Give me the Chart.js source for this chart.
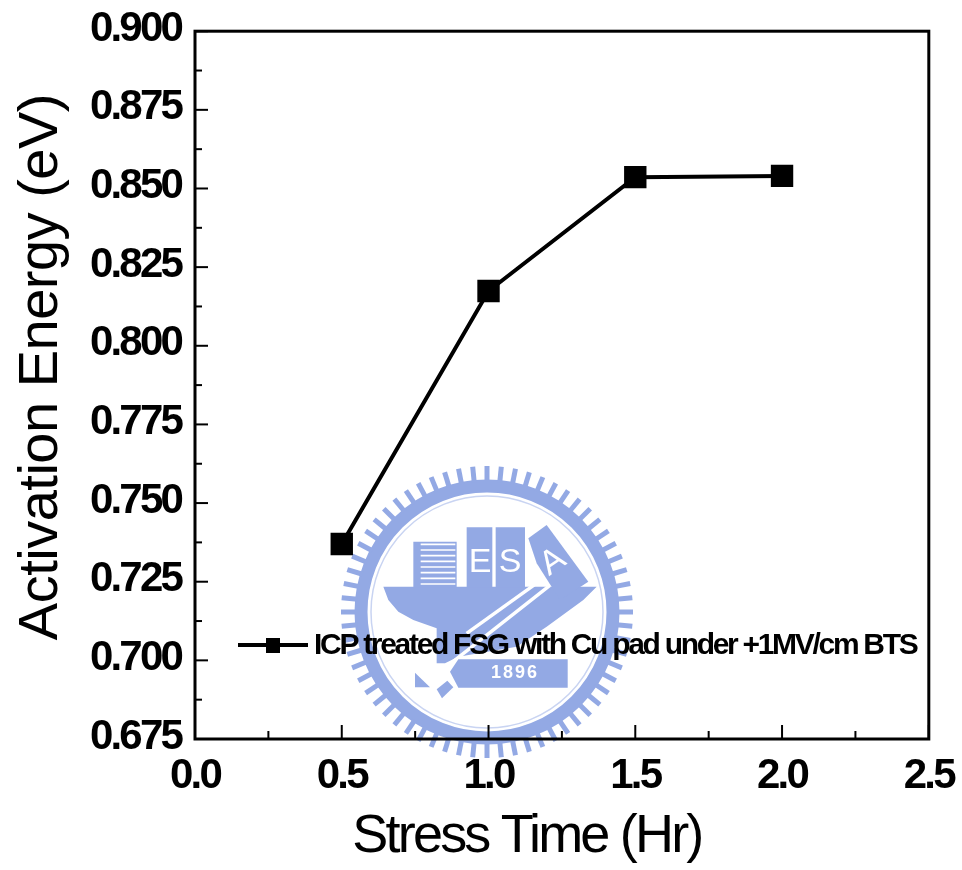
<!DOCTYPE html>
<html>
<head>
<meta charset="utf-8">
<style>
  html, body { margin: 0; padding: 0; background: #fff; }
  canvas { display: block; filter: blur(0.5px); }
</style>
<script src="https://cdn.jsdelivr.net/npm/chart.js@4"></script>
</head>
<body>
<canvas id="chart" width="962" height="870"></canvas>
<script>
// ===== data =====
const stressTime = [0.5, 1.0, 1.5, 2.0];
const activationEnergy = [0.737, 0.8174, 0.8536, 0.854];
const seriesLabel = "ICP treated FSG with Cu pad under +1MV/cm BTS";
const xTickLabels = ["0.0", "0.5", "1.0", "1.5", "2.0", "2.5"];
const yTickLabels = ["0.675", "0.700", "0.725", "0.750", "0.775", "0.800", "0.825", "0.850", "0.875", "0.900"];
const xMinorTicks = [0.25, 0.75, 1.25, 1.75, 2.25];
const yMinorTicks = [0.6875, 0.7125, 0.7375, 0.7625, 0.7875, 0.8125, 0.8375, 0.8625, 0.8875];

const FONT = '"Liberation Sans", Arial, sans-serif';
const LOGO = "#93a9e4";
const TICK_SPACING = "-2.8px";

// school seal behind the plot, positions in px of the seal crop
function drawSeal(ctx) {
  const cx = 487, cy = 612;
  const P = (x, y) => [330 + x / 3, 450 + y / 3];
  const poly = (pts, color) => {
    ctx.fillStyle = color;
    ctx.beginPath();
    pts.forEach((p, i) => {
      const q = P(p[0], p[1]);
      if (i === 0) ctx.moveTo(q[0], q[1]); else ctx.lineTo(q[0], q[1]);
    });
    ctx.closePath();
    ctx.fill();
  };
  const path = (pts) => {
    ctx.beginPath();
    pts.forEach((p, i) => {
      const q = P(p[0], p[1]);
      if (i === 0) ctx.moveTo(q[0], q[1]); else ctx.lineTo(q[0], q[1]);
    });
    ctx.stroke();
  };
  ctx.save();
  ctx.filter = "blur(0.7px)";
  // toothed band
  ctx.strokeStyle = LOGO;
  ctx.lineWidth = 13;
  ctx.beginPath();
  ctx.arc(cx, cy, 126, 0, Math.PI * 2);
  ctx.stroke();
  ctx.lineWidth = 5;
  for (let i = 0; i < 64; i++) {
    const a = i / 64 * Math.PI * 2;
    ctx.beginPath();
    ctx.moveTo(cx + Math.cos(a) * 130, cy + Math.sin(a) * 130);
    ctx.lineTo(cx + Math.cos(a) * 146, cy + Math.sin(a) * 146);
    ctx.stroke();
  }
  ctx.lineWidth = 1.5;
  ctx.strokeStyle = "#c9d4f2";
  ctx.beginPath();
  ctx.arc(cx, cy, 116, 0, Math.PI * 2);
  ctx.stroke();

  // hull
  poly([[160, 410], [800, 410], [760, 450], [650, 530], [560, 590], [385, 620], [345, 640], [320, 640], [320, 535], [250, 510], [205, 485], [175, 450]], LOGO);
  // buildings
  poly([[250, 275], [380, 275], [380, 412], [250, 412]], LOGO);
  poly([[410, 232], [487, 232], [487, 412], [410, 412]], LOGO);
  poly([[497, 232], [585, 232], [585, 412], [497, 412]], LOGO);
  poly([[595, 265], [650, 225], [775, 395], [690, 450], [620, 340]], LOGO);
  ctx.strokeStyle = "#fff";
  ctx.lineWidth = 1.6;
  for (let y = 283; y < 410; y += 17) {
    path([[272, y], [376, y]]);
  }
  // white diagonal
  ctx.lineWidth = 3.5;
  path([[640, 385], [655, 410], [350, 650], [380, 700]]);
  path([[640, 385], [410, 550]]);
  // banner and the lower pieces
  poly([[385, 628], [713, 628], [713, 713], [385, 713], [360, 665]], LOGO);
  poly([[255, 668], [300, 712], [255, 712]], LOGO);
  poly([[320, 718], [352, 692], [370, 712], [336, 745]], LOGO);
  // lettering
  ctx.fillStyle = "#fff";
  ctx.textAlign = "center";
  ctx.textBaseline = "middle";
  ctx.font = "34px " + FONT;
  ctx.fillText("E", 480, 563);
  ctx.fillText("S", 510, 563);
  ctx.save();
  ctx.translate(553, 562);
  ctx.rotate(-0.6);
  ctx.fillText("A", 0, 0);
  ctx.restore();
  ctx.font = "bold 18px " + FONT;
  ctx.letterSpacing = "2px";
  ctx.fillText("1896", 515, 673);
  ctx.restore();
}

// axis titles are off-centre and differently condensed in the source
const titleTweaks = {
  x: { spacing: "-2.8px", dx: -35, dy: 0 },
  y: { spacing: "-0.5px", dx: 0, dy: -18 }
};

const axisExtras = {
  id: "axisExtras",
  beforeDraw(chart) {
    const ctx = chart.ctx;
    ctx.save();
    ctx.fillStyle = "#fff";
    ctx.fillRect(0, 0, chart.width, chart.height);
    drawSeal(ctx);
    ctx.restore();
    ctx.letterSpacing = TICK_SPACING;
    Object.values(chart.scales).forEach((scale) => {
      if (scale.tweaked) return;
      scale.tweaked = true;
      const t = titleTweaks[scale.id];
      const origTitle = scale.drawTitle;
      scale.drawTitle = function () {
        ctx.save();
        ctx.letterSpacing = t.spacing;
        ctx.translate(t.dx, t.dy);
        origTitle.call(this);
        ctx.restore();
      };
      if (scale.id === "y") {
        const origLabels = scale.drawLabels;
        scale.drawLabels = function (area) {
          ctx.save();
          ctx.translate(0, -2);
          origLabels.call(this, area);
          ctx.restore();
        };
      }
    });
  },
  afterDatasetsDraw(chart) {
    const ctx = chart.ctx;
    const { left, right, top, bottom } = chart.chartArea;
    const x = chart.scales.x, y = chart.scales.y;
    ctx.save();
    ctx.letterSpacing = "0px";
    ctx.strokeStyle = "#000";
    ctx.lineWidth = 3;
    ctx.strokeRect(left, top, right - left, bottom - top);

    // inward ticks
    const tick = (x1, y1, x2, y2) => {
      ctx.beginPath();
      ctx.moveTo(x1, y1);
      ctx.lineTo(x2, y2);
      ctx.stroke();
    };
    ctx.lineWidth = 2;
    xTickLabels.forEach((t) => { const p = x.getPixelForValue(parseFloat(t)); tick(p, bottom, p, bottom - 14); });
    xMinorTicks.forEach((t) => { const p = x.getPixelForValue(t); tick(p, bottom, p, bottom - 8); });
    yTickLabels.forEach((t) => { const p = y.getPixelForValue(parseFloat(t)); tick(left, p, left + 13, p); });
    yMinorTicks.forEach((t) => { const p = y.getPixelForValue(t); tick(left, p, left + 7, p); });

    // legend sitting inside the plot
    ctx.lineWidth = 4;
    tick(238, 645, 308, 645);
    ctx.fillStyle = "#000";
    ctx.fillRect(266, 638, 14, 15);
    ctx.font = "bold 30px " + FONT;
    ctx.letterSpacing = "-2.3px";
    ctx.textBaseline = "middle";
    ctx.textAlign = "left";
    ctx.fillText(chart.data.datasets[0].label, 314, 646);
    ctx.restore();
  }
};

new Chart(document.getElementById("chart").getContext("2d"), {
  type: "line",
  data: {
    datasets: [{
      label: seriesLabel,
      data: stressTime.map((t, i) => ({ x: t, y: activationEnergy[i] })),
      borderColor: "#000",
      backgroundColor: "#000",
      borderWidth: 4,
      tension: 0,
      pointStyle: "rect",
      pointRadius: 13,
      pointHoverRadius: 13
    }]
  },
  options: {
    responsive: false,
    animation: false,
    layout: { padding: { top: 27, right: 31, left: 0, bottom: 0 } },
    plugins: { legend: { display: false }, tooltip: { enabled: false } },
    scales: {
      x: {
        type: "linear",
        min: 0,
        max: 2.5,
        afterFit(s) { s.height = 131; },
        afterBuildTicks(s) { s.ticks = xTickLabels.map((t) => ({ value: parseFloat(t) })); },
        grid: { display: false },
        border: { display: false },
        ticks: {
          padding: 4,
          color: "#000",
          maxRotation: 0,
          font: { family: FONT, size: 42, weight: "bold" },
          callback: (v, i) => xTickLabels[i]
        },
        title: {
          display: true,
          text: "Stress Time (Hr)",
          color: "#000",
          padding: { top: 0, bottom: 0 },
          font: { family: FONT, size: 54 }
        }
      },
      y: {
        type: "linear",
        min: 0.675,
        max: 0.9,
        afterFit(s) { s.width = 195; },
        afterBuildTicks(s) { s.ticks = yTickLabels.map((t) => ({ value: parseFloat(t) })); },
        grid: { display: false },
        border: { display: false },
        ticks: {
          padding: 6,
          color: "#000",
          font: { family: FONT, size: 42, weight: "bold" },
          callback: (v, i) => yTickLabels[i]
        },
        title: {
          display: true,
          text: "Activation Energy (eV)",
          color: "#000",
          padding: { top: 8, bottom: 0 },
          font: { family: FONT, size: 56 }
        }
      }
    }
  },
  plugins: [axisExtras]
});
</script>
</body>
</html>
